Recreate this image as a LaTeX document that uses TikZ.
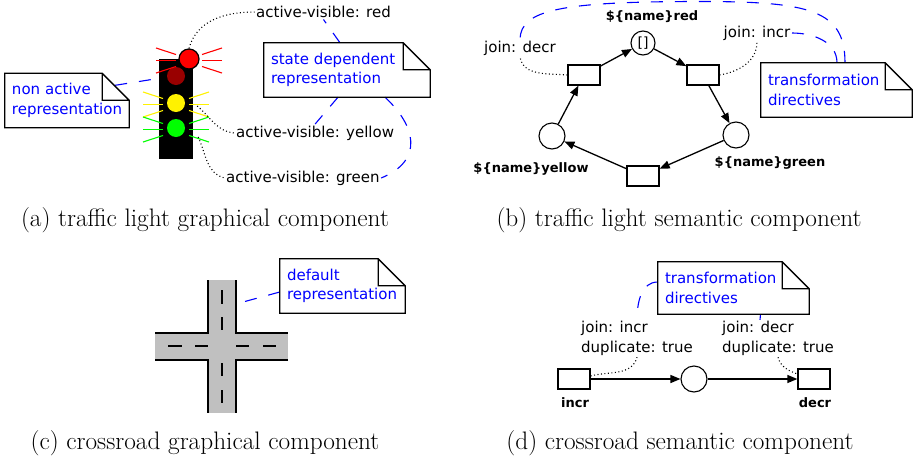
\documentclass[tikz,border=0pt]{standalone}
\usepackage{fontspec}
\usetikzlibrary{calc,arrows.meta}
\newfontfamily\uifont{DejaVu Sans}
\definecolor{lampoff}{RGB}{153,0,0}
\definecolor{asphalt}{RGB}{192,192,192}

\begin{document}
\begin{tikzpicture}[
  x=1pt, y=1pt,
  lamp/.style={circle, inner sep=0pt, minimum size=18pt},
  ray/.style={line width=1.1pt},
  place/.style={circle, draw, line width=1.1pt, inner sep=0pt, minimum size=26pt},
  transition/.style={rectangle, draw, line width=1.3pt, inner sep=0pt, minimum width=32pt, minimum height=20pt},
  arc/.style={-{Triangle[length=10pt,width=8pt]}, line width=1.3pt},
  annot/.style={font=\uifont\fontsize{15}{19.5}\selectfont, inner sep=1.5pt, align=left},
  netlabel/.style={font=\uifont\bfseries\fontsize{13}{15}\selectfont, inner sep=0pt},
  note/.style={annot, text=blue, inner xsep=7pt, inner ysep=0pt, minimum height=54pt},
  notebox/.style={draw, line width=1.3pt},
  link/.style={blue, line width=1.1pt, dash pattern=on 12pt off 12pt},
  hint/.style={line width=1.1pt, dash pattern=on 1pt off 2.5pt},
  lane/.style={line width=1.3pt},
  caption/.style={font=\fontsize{25.3}{30}\selectfont, inner sep=0pt}
]
\useasboundingbox (0,0) rectangle (913,-461);

% traffic light
\node[fill=black, minimum width=34pt, minimum height=100pt, inner sep=0pt] (housing) at (176,-109) {};
\node[lamp, fill=lampoff] (darklamp) at (176,-76) {};
\node[lamp, fill=yellow] (yellowlamp) at (176,-103) {};
\node[lamp, fill=green] (greenlamp) at (176,-128) {};
\node[lamp, fill=red, draw, line width=1.2pt, minimum size=20pt] (redlamp) at (189,-59) {};
\foreach \lamp/\col in {redlamp/red, yellowlamp/yellow, greenlamp/green}
  \foreach \s in {-1,0,1} {
    \draw[ray, \col] ($(\lamp)+(-33,12.5*\s-1.5)$) -- ($(\lamp)+(-13,6*\s-1.5)$);
    \draw[ray, \col] ($(\lamp)+(33,12.5*\s-1.5)$) -- ($(\lamp)+(13,6*\s-1.5)$);
  }

\node[annot, anchor=west] (lblred) at (254.5,-12) {active-visible: red};
\node[annot, anchor=west] (lblyellow) at (234.5,-133) {active-visible: yellow};
\node[annot, anchor=west] (lblgreen) at (224.5,-178) {active-visible: green};
\draw[hint] (redlamp.north) to[out=75,in=180] (lblred.west);
\draw[hint] ([xshift=4pt,yshift=-3pt]housing.east |- yellowlamp) to[out=-40,in=175] (lblyellow.west);
\draw[hint] ([xshift=5pt,yshift=-9pt]housing.east |- greenlamp) to[out=-65,in=165] (lblgreen.west);

\node[note, text width=110pt] (nonactive) at (67,-100.5) {non active\\representation};
\node[note, text width=152pt] (statedep) at (347,-70) {state dependent\\representation};
\draw[link] ([xshift=-14pt,yshift=-12pt]nonactive.north east) -- ([xshift=-4pt,yshift=-3pt]housing.west |- darklamp);
\draw[link] ([xshift=-7pt]statedep.north) -- (lblred.south);
\draw[link] ([xshift=-9pt]statedep.south) -- (lblyellow.north);
\draw[link] ([xshift=38pt]statedep.south) .. controls (415,-125) and (425,-160) .. (lblgreen.east);

\node[caption] (capa) at (205,-220) {(a) traffic light graphical component};

% traffic light net
\node[place, minimum size=24pt, font=\uifont\fontsize{14}{16}\selectfont] (redplace) at (643,-43) {[]};
\node[place] (yellowplace) at (552,-136) {};
\node[place] (greenplace) at (736,-135) {};
\node[transition] (tleft) at (584,-75) {};
\node[transition] (tright) at (703,-75) {};
\node[transition] (tbottom) at (643,-176) {};
\node[netlabel] (redname) at (652,-17) {\$\{name\}red};
\node[netlabel] (yellowname) at (531,-169) {\$\{name\}yellow};
\node[netlabel] (greenname) at (770,-163) {\$\{name\}green};
\draw[arc] (tleft) -- (redplace);
\draw[arc] (redplace) -- (tright);
\draw[arc] (tright) -- (greenplace);
\draw[arc] (greenplace) -- (tbottom);
\draw[arc] (tbottom) -- (yellowplace);
\draw[arc] (yellowplace) -- (tleft);

\node[annot] (joindecr) at (520,-48) {join: decr};
\node[annot] (joinincr) at (757,-33) {join: incr};
\draw[hint] (tleft.west) to[out=175,in=-80] (joindecr.south);
\draw[hint] (tright.east) to[out=10,in=-90] (joinincr.south);

\node[note, text width=137pt] (directb) at (836.5,-90) {transformation\\directives};
\draw[link] ([xshift=8.5pt]directb.north) .. controls (845,-10) and (810,-1.5) .. (700,-1.5)
  .. controls (560,-1.5) and (521,-10) .. (joindecr.north);
\draw[link] ([xshift=0.5pt]directb.north) to[out=90,in=0] (joinincr.east);

\node[caption] (capb) at (679,-220) {(b) traffic light semantic component};

% crossroad
\fill[asphalt] (208,-280) rectangle (236,-413);
\fill[asphalt] (155,-333) rectangle (288,-360);
\draw[lane] (208,-280) -- (208,-333) -- (155,-333);
\draw[lane] (236,-280) -- (236,-333) -- (288,-333);
\draw[lane] (155,-360) -- (208,-360) -- (208,-413);
\draw[lane] (288,-360) -- (236,-360) -- (236,-413);
\foreach \a/\b in {290/304, 317/330, 363/376, 390/403}
  \draw[lane] (222,-\a) -- (222,-\b);
\foreach \a/\b in {168/182, 195/208, 236/249, 263/276}
  \draw[lane] (\a,-346) -- (\b,-346);
\coordinate (roadside) at (243,-302);

\node[note, text width=111pt] (default) at (342.5,-286) {default\\representation};
\draw[link] ([yshift=-6pt]default.west) -- (roadside);

\node[caption] (capc) at (205,-443) {(c) crossroad graphical component};

% crossroad net
\node[transition] (tincr) at (574,-379) {};
\node[place] (buffer) at (694,-379) {};
\node[transition] (tdecr) at (814,-379) {};
\node[netlabel] (incrname) at (575,-403) {incr};
\node[netlabel] (decrname) at (815,-403) {decr};
\draw[arc] (tincr) -- (buffer);
\draw[arc] (buffer) -- (tdecr);

\node[annot, anchor=west] (joinincrd) at (579.5,-338.5) {join: incr\\duplicate: true};
\node[annot, anchor=west] (joindecrd) at (720.5,-338.5) {join: decr\\duplicate: true};
\draw[hint] ([yshift=3pt]tincr.east) to[out=15,in=-105] (joinincrd.south);
\draw[hint] (joindecrd.south) to[out=-75,in=160] ([yshift=5pt]tdecr.west);

\node[note, text width=137pt, minimum height=52pt] (directd) at (733.5,-288) {transformation\\directives};
\draw[link] ([yshift=6pt]directd.west) to[out=180,in=90] (joinincrd.north);
\draw[link] ([xshift=27pt]directd.south) -- ([xshift=-18pt]joindecrd.north);

\node[caption] (capd) at (680,-443) {(d) crossroad semantic component};

% folded note outlines
\foreach \n in {nonactive, statedep, directb, default, directd}
  \draw[notebox] (\n.north west) -- ([xshift=-27pt]\n.north east) -- ([yshift=-27pt]\n.north east)
    -- (\n.south east) -- (\n.south west) -- cycle
    ([xshift=-27pt]\n.north east) |- ([yshift=-27pt]\n.north east);
\end{tikzpicture}
\end{document}
